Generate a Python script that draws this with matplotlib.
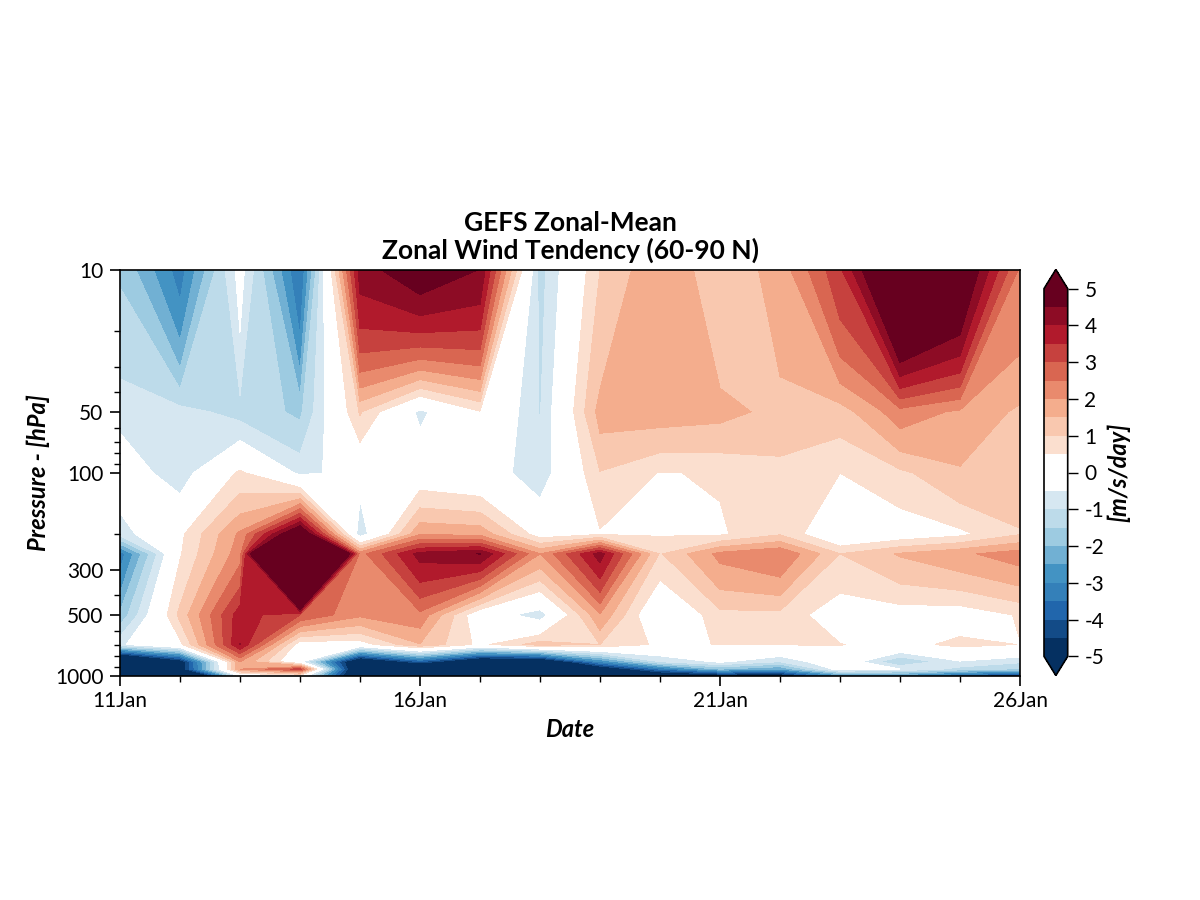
import numpy as np
import pandas as pd
import matplotlib
matplotlib.use("Agg")
import matplotlib.pyplot as plt
import matplotlib.dates as mdates
from matplotlib.colors import ListedColormap, BoundaryNorm

plt.rcParams["font.family"] = ["Lato", "DejaVu Sans"]
plt.rcParams["axes.unicode_minus"] = False

# pressure levels (hPa) and daily times
pressure = [10, 50, 100, 200, 250, 500, 700, 850, 925, 1000]
dates = pd.date_range("2021-01-11", "2021-01-26", freq="D")

# tendency (m/s/day) at each level
u_10 = [-1.55, -3.25, -0.26, -3.55, 4.25, 4.95, 4.48, -1.21, 1.0, 1.95, 1.14, 1.7, 3.4, 6.4, 5.47, 2.4]
u_50 = [-0.65, -0.8, -1.2, -1.6, 1.05, -0.65, 0.45, -1.03, 1.7, 1.75, 1.65, 1.36, 1.25, 2.3, 1.9, 1.4]
u_100 = [-0.1, -0.82, 0.62, -0.62, -0.3, 0.1, -0.09, -0.85, 0.97, 0.47, 0.55, 0.81, 0.5, 0.88, 1.43, 1.2]
u_200 = [-0.8, 0.37, 2.1, 5.6, -0.86, 1.95, 1.85, 0.2, 0.44, 0.45, 0.42, 0.95, -0.2, 0.1, 0.37, 0.97]
u_250 = [-3.3, 0.45, 2.3, 15.5, 2.3, 4.2, 4.52, 2.0, 4.25, 0.95, 2.15, 2.5, 1.0, 1.55, 1.9, 2.26]
u_500 = [-1.9, 1.15, 3.8, 3.0, 2.1, 2.36, -0.04, -0.83, 1.95, -0.35, 0.85, 0.85, 0.11, 0.2, 0.15, 0.55]
u_700 = [-0.6, 0.35, 4.01, 0.15, 0.2, 1.47, 0.35, 1.26, 1.0, 0.38, 0.52, 0.52, 0.52, 0.29, 0.65, 0.49]
u_850 = [-7.9, -5.1, 2.0, -0.3, -6.0, -4.0, -6.0, -6.0, -3.0, -1.0, -0.4, -1.0, 0.1, -1.55, -0.55, -0.9]
u_925 = [-8.0, -5.2, 2.0, 3.2, -6.6, -7.0, -7.0, -7.5, -5.6, -3.5, -2.0, -2.5, -0.2, -0.5, -1.2, -1.6]
u_1000 = [-8.0, -9.0, -0.5, 0.2, -6.5, -7.0, -7.0, -7.0, -7.0, -6.0, -5.5, -5.5, -3.0, -3.0, -4.0, -5.0]

levels = [-5, -4.5, -4, -3.5, -3, -2.5, -2, -1.5, -1, -0.5, 0, 0.5, 1, 1.5, 2, 2.5, 3, 3.5, 4, 4.5, 5]
colors = ["#053061", "#134b87", "#2166ac", "#3480b9", "#4393c3", "#71b0d3", "#9dcbe1", "#bddbea", "#d6e7f1",
          "#ffffff", "#ffffff",
          "#fbdfcf", "#f9c8af", "#f4ad8d", "#e98a6d", "#d96651", "#c6413e", "#b11a2c", "#8d0c25", "#67001f"]
cbar_ticks = [-5, -4, -3, -2, -1, 0, 1, 2, 3, 4, 5]
major_p = [10, 50, 100, 300, 500, 1000]
minor_p = [20, 30, 40, 60, 70, 80, 90, 200, 400, 600, 700, 800, 900]

u = np.array([u_10, u_50, u_100, u_200, u_250, u_500, u_700, u_850, u_925, u_1000])

cmap = ListedColormap(colors)
cmap.set_under(colors[0])
cmap.set_over(colors[-1])
norm = BoundaryNorm(levels, cmap.N)

fig = plt.figure(figsize=(12, 9), dpi=100)
ax = fig.add_axes([0.1, 1 - 676 / 900, 0.75, 406 / 900])

cf = ax.contourf(dates, pressure, u, levels=levels, cmap=cmap, norm=norm, extend="both")

ax.set_yscale("log")
ax.set_ylim(1000, 10)
ax.set_yticks(major_p)
ax.set_yticklabels([str(p) for p in major_p])
ax.set_yticks(minor_p, minor=True)
ax.set_yticklabels([], minor=True)

ax.set_xlim(dates[0], dates[-1])
ax.set_xticks(dates[::5])
ax.set_xticks(dates, minor=True)
ax.xaxis.set_major_formatter(mdates.DateFormatter("%d%b"))

ax.tick_params(axis="y", which="major", labelsize=15, length=7, width=1.2, pad=5)
ax.tick_params(axis="x", which="major", labelsize=15, length=7, width=1.2, pad=3.5)
ax.tick_params(axis="both", which="minor", length=4, width=1.0)
for sp in ax.spines.values():
    sp.set_linewidth(1.2)

ax.set_ylabel("Pressure - [hPa]", fontsize=17, fontweight="bold", fontstyle="italic", labelpad=3.5)
ax.set_xlabel("Date", fontsize=17, fontweight="bold", fontstyle="italic", labelpad=5)
ax.set_title("GEFS Zonal-Mean\nZonal Wind Tendency (60-90 N)", fontsize=19, fontweight="bold", pad=8, linespacing=1.15)

cax = fig.add_axes([1044 / 1200, 1 - 675.5 / 900, 23.7 / 1200, 406 / 900])
cb = fig.colorbar(cf, cax=cax, ticks=cbar_ticks, extendfrac=0.052, drawedges=False)
cb.ax.tick_params(labelsize=15, length=7, width=1.0, pad=5)
cb.ax.minorticks_off()
cb.outline.set_linewidth(1.2)
cb.set_label("[m/s/day]", fontsize=17, fontweight="bold", fontstyle="italic", rotation=90, labelpad=2)

fig.savefig("out.png", dpi=100)
